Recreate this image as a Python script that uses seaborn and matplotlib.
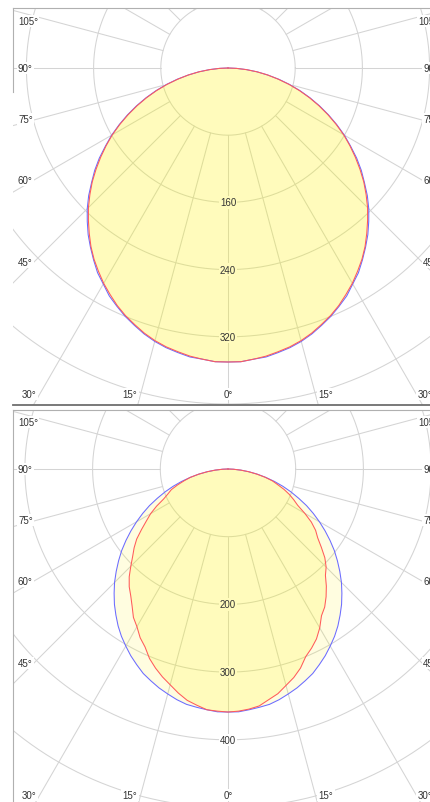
import numpy as np
import matplotlib
matplotlib.use("Agg")
import matplotlib.pyplot as plt
import seaborn as sns

# ---------------- data (cd/klm), gamma angles in degrees ----------------
gamma = [0, 2.5, 5, 7.5, 10, 12.5, 15, 17.5, 20, 22.5, 25, 27.5, 30, 32.5, 35, 37.5, 40, 42.5,
         45, 47.5, 50, 52.5, 55, 57.5, 60, 62.5, 65, 67.5, 70, 72.5, 75, 77.5, 80, 82.5, 85, 87.5, 90]

# panel 1 (C0-C180 red, C90-C270 blue)
p1_c0   = [350, 350, 348, 346, 343, 340, 336, 331, 325, 319, 312, 304, 296, 287, 278, 268, 257, 246,
           235, 223, 211, 198, 185, 172, 159, 145, 131, 117, 103, 89, 75, 61, 48, 35, 22, 10, 0]
p1_c180 = [350, 350, 348, 346, 343, 340, 336, 331, 325, 319, 312, 304, 296, 287, 278, 268, 257, 246,
           235, 223, 211, 198, 185, 172, 159, 145, 131, 117, 103, 89, 75, 61, 48, 35, 22, 10, 0]
p1_c90  = [350, 350, 348, 347, 344, 341, 337, 332, 326, 320, 313, 306, 297, 289, 279, 269, 259, 248,
           237, 225, 212, 200, 187, 173, 160, 146, 132, 118, 104, 90, 76, 62, 48, 35, 22, 10, 0]
p1_c270 = [350, 350, 348, 347, 344, 341, 337, 332, 326, 320, 313, 306, 297, 289, 279, 269, 259, 248,
           237, 225, 212, 200, 187, 173, 160, 146, 132, 118, 104, 90, 76, 62, 48, 35, 22, 10, 0]
p1_ring_step = 80
p1_ring_labels = ["160", "240", "320"]

# panel 2
p2_c0   = [359, 358, 356, 353, 346, 340, 331, 323, 313, 300, 292, 283, 271, 257, 249, 238, 226, 213,
           205, 194, 180, 167, 158, 146, 131, 116, 107, 98, 88, 77, 68, 56, 43, 31, 19, 8, 0]
p2_c180 = [359, 358, 357, 352, 347, 339, 330, 322, 313, 303, 290, 281, 269, 260, 247, 236, 227, 216,
           203, 191, 181, 170, 156, 143, 132, 119, 105, 96, 89, 78, 67, 57, 44, 31, 19, 8, 0]
p2_c90  = [359, 359, 357, 355, 353, 349, 344, 339, 333, 327, 319, 311, 302, 293, 283, 272, 261, 249,
           237, 224, 211, 198, 184, 170, 156, 142, 128, 113, 99, 85, 71, 57, 44, 31, 19, 8, 0]
p2_c270 = [359, 359, 357, 355, 353, 349, 344, 339, 333, 327, 319, 311, 302, 293, 283, 272, 261, 249,
           237, 224, 211, 198, 184, 170, 156, 142, 128, 113, 99, 85, 71, 57, 44, 31, 19, 8, 0]
p2_ring_step = 100
p2_ring_labels = ["200", "300", "400"]

side_angle_labels = ["105°", "90°", "75°", "60°", "45°"]
bottom_angle_labels = ["30°", "15°", "0°", "15°", "30°"]

# ---------------- layout (pixels) ----------------
W, H = 430, 803
side_dy = [-47, 0, 51, 112, 194]
bottom_dx = [-199, -98, 0, 98, 197]
bottom_dy = 326
side_dx = 210

sns.set_style("white")
plt.rcParams['font.family'] = ['Liberation Sans', 'DejaVu Sans']

fig = plt.figure(figsize=(W / 100, H / 100), dpi=100)
fig.patch.set_facecolor("white")

GRID = "#d4d4d4"
TXT = "#333333"
FILL = (1.0, 0.965, 0.0)


def closed_shape(left_vals, right_vals):
    g = np.radians(np.array(gamma, dtype=float))
    lv = np.array(left_vals, dtype=float)
    rv = np.array(right_vals, dtype=float)
    xl = -(lv * np.sin(g))[::-1]
    yl = -(lv * np.cos(g))[::-1]
    xr = rv * np.sin(g)
    yr = -rv * np.cos(g)
    return np.concatenate([xl, xr[1:]]), np.concatenate([yl, yr[1:]])


def panel(box_px, center_px, s, step, ring_labels, c0, c180, c90, c270, left_bounds_px=None,
          bottom_spine=True):
    x0, y0, x1, y1 = box_px
    cx, cy = center_px
    ax = fig.add_axes([x0 / W, 1 - y1 / H, (x1 - x0) / W, (y1 - y0) / H])
    ax.set_facecolor("white")

    # grid circles
    t = np.linspace(0, 2 * np.pi, 721)
    for k in range(1, 9):
        r = k * step
        ax.plot(r * np.cos(t), r * np.sin(t), color=GRID, lw=0.75, zorder=1)
    # radial lines from first ring outward
    for a in range(0, 360, 15):
        ar = np.radians(a)
        rr = np.array([step, step * 9])
        ax.plot(rr * np.sin(ar), -rr * np.cos(ar), color=GRID, lw=0.75, zorder=1)

    bb = dict(boxstyle="square,pad=0.12", fc="white", ec="none")
    # ring labels: white box below the fill, text above it
    for k, lab in enumerate(ring_labels, start=2):
        ax.text(0, -k * step, lab, ha="center", va="center", fontsize=7, color="white",
                bbox=bb, zorder=2)
        ax.text(0, -k * step, lab, ha="center", va="center", fontsize=7, color=TXT, zorder=5)
    # angle labels
    for lab, dy in zip(side_angle_labels, side_dy):
        ax.text(-side_dx / s, -dy / s, lab, ha="left", va="center", fontsize=7,
                color=TXT, bbox=bb, zorder=2)
        ax.text(side_dx / s, -dy / s, lab, ha="right", va="center", fontsize=7,
                color=TXT, bbox=bb, zorder=2)
    for lab, dx in zip(bottom_angle_labels, bottom_dx):
        ax.text(dx / s, -bottom_dy / s, lab, ha="center", va="center", fontsize=7,
                color=TXT, bbox=bb, zorder=2)

    # photometric curves
    xb, yb = closed_shape(c270, c90)
    xr, yr = closed_shape(c180, c0)
    ax.fill(xb, yb, color=FILL, alpha=0.12, lw=0, zorder=3)
    ax.fill(xr, yr, color=FILL, alpha=0.16, lw=0, zorder=3)
    sns.lineplot(x=xb, y=yb, ax=ax, sort=False, estimator=None, color="#6b6bff",
                 linewidth=0.75, zorder=4)
    sns.lineplot(x=xr, y=yr, ax=ax, sort=False, estimator=None, color="#ff5a5a",
                 linewidth=0.75, zorder=4)

    ax.set_xlim(-(cx - x0) / s, (x1 - cx) / s)
    ax.set_ylim(-(y1 - cy) / s, (cy - y0) / s)
    ax.set_xticks([])
    ax.set_yticks([])
    ax.set_xlabel("")
    ax.set_ylabel("")
    for sp in ax.spines.values():
        sp.set_color("#b0b0b0")
        sp.set_linewidth(0.8)
    ax.spines["right"].set_visible(False)
    if bottom_spine:
        ax.spines["bottom"].set_color("#6e6e6e")
        ax.spines["bottom"].set_linewidth(1.3)
    else:
        ax.spines["bottom"].set_visible(False)
    if left_bounds_px is not None:
        a_px, b_px = left_bounds_px
        ax.spines["left"].set_bounds((cy - b_px) / s, (cy - a_px) / s)
    return ax


panel((13, 9, 443, 406), (228, 69), 67.2 / 80, p1_ring_step, p1_ring_labels,
      p1_c0, p1_c180, p1_c90, p1_c270, left_bounds_px=(9, 93))
panel((13, 411, 443, 805), (228, 470), 67.7 / 100, p2_ring_step, p2_ring_labels,
      p2_c0, p2_c180, p2_c90, p2_c270, bottom_spine=False)

fig.savefig("out.png", dpi=100, facecolor="white")
